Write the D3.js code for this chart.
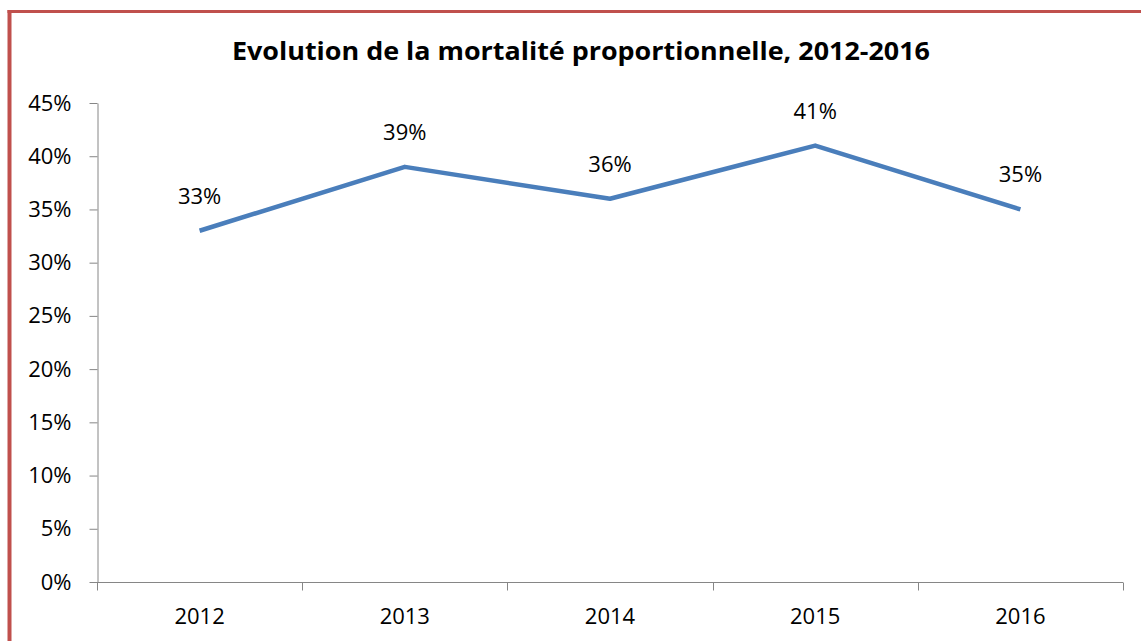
<!DOCTYPE html>
<html><head><meta charset="utf-8">
<script src="https://cdn.jsdelivr.net/npm/d3@7"></script>
<style>html,body{margin:0;padding:0;background:#fff;}</style>
</head><body>
<svg id="c" width="1141" height="641"></svg>
<script>
const categories = ["2012","2013","2014","2015","2016"];
const values = [0.33, 0.39, 0.36, 0.41, 0.35];
const yTicks = [0,0.05,0.10,0.15,0.20,0.25,0.30,0.35,0.40,0.45];
const title = "Evolution de la mortalité proportionnelle, 2012-2016";

(function(){
const svg = d3.select("#c");
const font = "'Open Sans', 'Noto Sans', sans-serif";
svg.append("line").attr("x1",9.5).attr("x2",9.5).attr("y1",10).attr("y2",641)
  .attr("stroke","#c0504d").attr("stroke-width",4);
svg.append("line").attr("x1",7.5).attr("x2",1141).attr("y1",11.5).attr("y2",11.5)
  .attr("stroke","#c0504d").attr("stroke-width",3);

const pLeft = 97, pRight = 1123, pTop = 103, pBottom = 582;
const x = d3.scaleBand().domain(categories).range([pLeft,pRight]);
const y = d3.scaleLinear().domain([0,0.45]).range([pBottom,pTop]);

svg.append("text").attr("x",581).attr("y",60).attr("text-anchor","middle")
  .attr("font-family",font).attr("font-weight","bold").attr("font-size",25)
  .attr("textLength",698).attr("lengthAdjust","spacingAndGlyphs")
  .attr("fill","#000").text(title);

const axisColor = "#868686";
const ya = svg.append("g").attr("transform",`translate(${pLeft+0.5},0)`)
  .call(d3.axisLeft(y).tickValues(yTicks).tickFormat(d3.format(".0%")).tickSizeOuter(0).tickSizeInner(8).tickPadding(18));
ya.select(".domain").attr("stroke",axisColor);
ya.selectAll(".tick line").attr("stroke",axisColor);
ya.selectAll("text").attr("font-family",font).attr("font-size",22).attr("fill","#000");

const xa = svg.append("g").attr("transform",`translate(0,${pBottom+0.5})`);
xa.append("line").attr("x1",pLeft).attr("x2",pRight).attr("stroke",axisColor);
const bounds = categories.map(c=>x(c)).concat([pRight]);
xa.selectAll("line.b").data(bounds).join("line").attr("class","b")
  .attr("x1",d=>Math.round(d)+0.5).attr("x2",d=>Math.round(d)+0.5).attr("y1",0).attr("y2",8)
  .attr("stroke",axisColor);
xa.selectAll("text").data(categories).join("text")
  .attr("x",d=>x(d)+x.bandwidth()/2).attr("y",41.5).attr("text-anchor","middle")
  .attr("font-family",font).attr("font-size",22).attr("fill","#000").text(d=>d);

const line = d3.line().x((d,i)=>x(categories[i])+x.bandwidth()/2).y(d=>y(d));
svg.append("path").datum(values).attr("d",line).attr("fill","none")
  .attr("stroke","#4a7ebb").attr("stroke-width",4.5).attr("stroke-linejoin","round");

svg.selectAll("text.lab").data(values).join("text").attr("class","lab")
  .attr("x",(d,i)=>x(categories[i])+x.bandwidth()/2).attr("y",d=>y(d)-27)
  .attr("text-anchor","middle").attr("font-family",font).attr("font-size",22)
  .attr("fill","#000").text(d=>d3.format(".0%")(d));
})();
</script>
</body></html>
